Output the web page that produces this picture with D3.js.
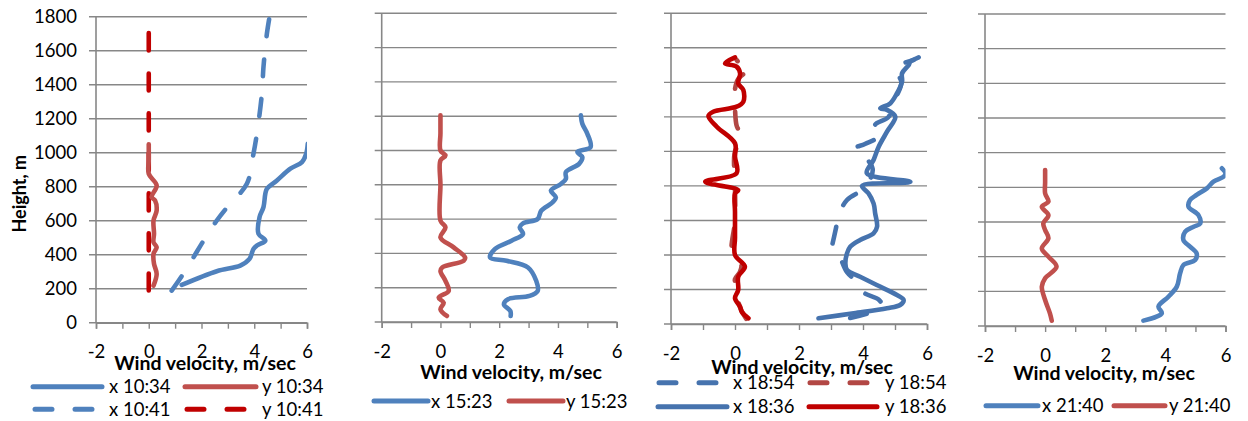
<!DOCTYPE html>
<html>
<head>
<meta charset="utf-8">
<script src="https://cdn.jsdelivr.net/npm/d3@7"></script>
<style>
  html, body { margin: 0; padding: 0; background: #fff; }
  svg { display: block; font-family: Lato, "Liberation Sans", sans-serif; }
</style>
</head>
<body>
<svg id="chart" width="1248" height="421"></svg>
<script>
// Wind profiles: each point is [height (m), velocity (m/sec)]
const heightTicks = [0, 200, 400, 600, 800, 1000, 1200, 1400, 1600, 1800];
const velocityTicks = [-2, -1, 0, 1, 2, 3, 4, 5, 6];

const x1034 = [[222,1.25],[303,2.58],[336,3.47],[375,3.82],[434,3.97],[454,4.1],[483,4.42],[523,4.16],[621,4.2],[680,4.35],[758,4.42],[788,4.48],[837,4.86],[906,5.37],[945,5.81],[994,5.97],[1053,6.03]];
const y1034 = [[218,0.18],[287,0.3],[346,0.2],[405,0.18],[444,0.3],[473,0.18],[523,0.2],[601,0.18],[660,0.3],[719,0.24],[739,0.11],[807,0.3],[876,0.0],[960,0.0],[1050,0.0]];
const x1041 = [[189,0.87],[283,1.29],[380,1.68],[483,2.08],[601,2.58],[690,3.03],[817,3.72],[994,3.97],[1112,4.1],[1348,4.29],[1505,4.35],[1701,4.48],[1800,4.58]];
const y1041 = [[190,0.0],[400,0.0],[600,0.0],[800,0.0],[1000,0.0],[1200,0.0],[1400,0.0],[1600,0.0],[1730,0.0]];

const x1523 = [[35,2.39],[64,2.38],[103,2.16],[133,2.3],[152,3.03],[181,3.31],[240,3.26],[318,2.98],[357,2.25],[376,1.69],[425,1.85],[474,2.42],[513,2.81],[552,2.7],[575,2.81],[601,3.31],[649,3.43],[698,3.82],[727,3.93],[766,3.76],[805,4.1],[835,4.27],[874,4.27],[922,4.72],[961,4.83],[991,4.66],[1020,5.11],[1098,5.0],[1156,4.83],[1205,4.78]];
const y1523 = [[35,0.22],[74,0.0],[113,0.11],[142,-0.06],[181,0.28],[240,0.17],[298,0.0],[318,0.06],[357,0.79],[376,0.84],[435,0.45],[493,0.0],[552,0.17],[591,0.0],[800,0.0],[942,0.0],[971,0.17],[1000,0.0],[1100,0.0],[1205,0.0]];

const x1854 = [[35,3.6],[100,4.6],[140,4.5],[185,4.0],[230,3.9],[300,3.5],[400,3.24],[438,3.02],[467,3.05],[550,3.15],[631,3.24],[718,3.5],[780,4.0],[830,4.2],[900,4.3],[980,4.0],[1018,3.75],[1043,4.06],[1100,4.6],[1153,4.38],[1200,4.8],[1300,5.0],[1400,5.2],[1481,5.01],[1530,5.58]];
const y1854 = [[30,0.35],[100,0.15],[200,0.05],[260,0.0],[300,0.15],[340,0.2],[400,0.0],[430,-0.1],[600,0.0],[800,0.0],[1000,0.0],[1060,0.2],[1110,0.15],[1150,0.05],[1250,0.0],[1300,0.0],[1360,0.0],[1420,0.1],[1480,0.45],[1500,0.2],[1530,0.05]];
const x1836 = [[33,2.61],[62,3.71],[91,4.75],[110,5.16],[139,5.27],[168,5.06],[226,4.43],[274,3.91],[313,3.5],[351,3.45],[409,3.5],[448,3.6],[487,3.91],[525,4.33],[564,4.44],[641,4.38],[699,4.33],[757,4.17],[800,3.97],[824,5.48],[873,4.12],[950,4.33],[1027,4.49],[1114,4.75],[1201,5.01],[1240,4.75],[1250,4.54],[1278,4.85],[1336,5.06],[1404,5.22],[1452,5.22],[1501,5.43],[1520,5.48],[1545,5.74]];
const y1836 = [[33,0.42],[71,0.21],[100,0.16],[149,0.0],[197,0.1],[274,0.1],[332,0.31],[400,0.0],[500,0.0],[650,0.0],[757,0.0],[776,0.1],[824,-0.93],[873,0.05],[969,0.0],[1047,0.0],[1143,-0.57],[1205,-0.83],[1230,-0.68],[1259,0.05],[1288,0.26],[1356,0.26],[1394,0.1],[1452,0.16],[1491,0.05],[1510,-0.31],[1545,0.0]];

const x2140 = [[31,3.27],[73,3.88],[112,3.77],[169,4.1],[227,4.38],[304,4.49],[352,4.6],[381,4.99],[419,5.04],[458,4.82],[496,4.6],[544,4.66],[573,4.94],[592,5.16],[640,5.1],[688,4.77],[727,4.82],[756,5.04],[794,5.38],[833,5.6],[862,5.94],[881,6.0],[910,5.88]];
const y2140 = [[31,0.22],[73,0.16],[150,0.0],[227,-0.11],[275,0.0],[342,0.38],[400,0.11],[448,-0.11],[506,0.11],[554,0.0],[592,-0.06],[640,0.11],[688,-0.11],[717,0.11],[765,0.0],[830,0.0],[900,0.0]];

// Series labels
const labels1 = ["x 10:34", "y 10:34", "x 10:41", "y 10:41"];
const labels2 = ["x 15:23", "y 15:23"];
const labels3 = ["x 18:54", "y 18:54", "x 18:36", "y 18:36"];
const labels4 = ["x 21:40", "y 21:40"];

// Colours and styles
const BLUE = "#4F81BD", RED = "#C0504D", DARKRED = "#C00000";
const BLUE3 = "#4673AE", RED3 = "#B24744";
const DASH = "17,23";
const GRID = "#878787";

const panels = [
  { box: {l: 96, r: 307, t: 16.7, b: 322.7}, yLabels: true, titleX: 205, titleDy: 40,
    series: [
      {data: x1041, label: labels1[2], color: BLUE, dash: DASH},
      {data: y1041, label: labels1[3], color: DARKRED, dash: DASH},
      {data: x1034, label: labels1[0], color: BLUE},
      {data: y1034, label: labels1[1], color: RED}
    ],
    legend: [
      {label: labels1[0], color: BLUE, x1: 33, x2: 102, tx: 109, y: 386.7},
      {label: labels1[1], color: RED, x1: 185, x2: 256, tx: 262, y: 386.7},
      {label: labels1[2], color: BLUE, dash: DASH, x1: 35, x2: 100, tx: 109, y: 409.3},
      {label: labels1[3], color: DARKRED, dash: DASH, x1: 187, x2: 254, tx: 262, y: 409.3}
    ]},
  { box: {l: 381.7, r: 616.7, t: 13.3, b: 322}, titleX: 511, titleDy: 50,
    series: [
      {data: x1523, label: labels2[0], color: BLUE},
      {data: y1523, label: labels2[1], color: RED}
    ],
    legend: [
      {label: labels2[0], color: BLUE, x1: 374, x2: 428, tx: 431, y: 401},
      {label: labels2[1], color: RED, x1: 509, x2: 563, tx: 566, y: 401}
    ]},
  { box: {l: 671, r: 927, t: 13.3, b: 324}, titleX: 802, titleDy: 43,
    series: [
      {data: x1854, label: labels3[0], color: BLUE3, dash: DASH},
      {data: y1854, label: labels3[1], color: RED3, dash: DASH},
      {data: x1836, label: labels3[2], color: BLUE3},
      {data: y1836, label: labels3[3], color: DARKRED}
    ],
    legend: [
      {label: labels3[0], color: BLUE3, dash: DASH, x1: 659, x2: 720, tx: 733, y: 382.7},
      {label: labels3[1], color: RED3, dash: DASH, x1: 810, x2: 870, tx: 885, y: 382.7},
      {label: labels3[2], color: BLUE3, x1: 658, x2: 727, tx: 733, y: 406.7},
      {label: labels3[3], color: DARKRED, x1: 809, x2: 877, tx: 885, y: 406.7}
    ]},
  { box: {l: 985, r: 1225.5, t: 14, b: 326}, titleX: 1104, titleDy: 47,
    series: [
      {data: x2140, label: labels4[0], color: BLUE},
      {data: y2140, label: labels4[1], color: RED}
    ],
    legend: [
      {label: labels4[0], color: BLUE, x1: 986, x2: 1038, tx: 1042, y: 405.7},
      {label: labels4[1], color: RED, x1: 1114, x2: 1165, tx: 1169, y: 405.7}
    ]}
];

const svg = d3.select("#chart");

panels.forEach((p, i) => {
  const {l, r, t, b} = p.box;
  const x = d3.scaleLinear().domain([-2, 6]).range([l, r]);
  const y = d3.scaleLinear().domain([0, 1800]).range([b, t]);
  const g = svg.append("g");

  // horizontal gridlines with left tick marks
  g.selectAll("line.grid").data(heightTicks).join("line")
    .attr("x1", l - 7).attr("x2", r)
    .attr("y1", d => y(d)).attr("y2", d => y(d))
    .attr("stroke", GRID).attr("stroke-width", 1.4);

  // vertical axis line
  g.append("line").attr("x1", l).attr("x2", l).attr("y1", t).attr("y2", b)
    .attr("stroke", GRID).attr("stroke-width", 1.6);

  // velocity axis
  const ax = g.append("g").attr("transform", `translate(0,${b})`)
    .call(d3.axisBottom(x).tickValues(velocityTicks).tickSize(6)
      .tickFormat(d => (d % 2 === 0 ? String(d) : "")));
  ax.select(".domain").attr("stroke", GRID).attr("stroke-width", 1.6);
  ax.selectAll(".tick line").attr("stroke", GRID).attr("stroke-width", 1.4);
  ax.selectAll(".tick text").attr("y", 29).attr("dy", "0.36em")
    .attr("font-size", 18.5).attr("font-family", "Lato, sans-serif").attr("fill", "#000");

  // height labels (first panel only)
  if (p.yLabels) {
    g.selectAll("text.ylab").data(heightTicks).join("text")
      .attr("x", l - 19).attr("y", d => y(d)).attr("dy", "0.36em")
      .attr("text-anchor", "end").attr("font-size", 18.5).text(d => d);
    g.append("text")
      .attr("transform", `translate(26,${(t + b) / 2 + 24}) rotate(-90)`)
      .attr("text-anchor", "middle").attr("font-size", 18).attr("font-weight", "bold")
      .text("Height, m");
  }

  // axis title
  g.append("text").attr("x", p.titleX).attr("y", b + p.titleDy).attr("dy", "0.36em")
    .attr("text-anchor", "middle").attr("font-size", 19.5).attr("font-weight", "bold")
    .text("Wind velocity, m/sec");

  // clip region for profiles
  svg.append("clipPath").attr("id", "clip" + i)
    .append("rect").attr("x", l).attr("y", t - 3).attr("width", r - l).attr("height", b - t + 6);

  const line = d3.line()
    .x(d => x(d[1])).y(d => y(d[0]))
    .curve(d3.curveCatmullRom.alpha(0.5));

  g.append("g").attr("clip-path", `url(#clip${i})`)
    .selectAll("path").data(p.series).join("path")
    .attr("d", s => line(s.data))
    .attr("fill", "none")
    .attr("stroke", s => s.color)
    .attr("stroke-width", 4.6)
    .attr("stroke-linecap", "round")
    .attr("stroke-linejoin", "round")
    .attr("stroke-dasharray", s => s.dash || null);

  // legend
  const lg = g.append("g");
  p.legend.forEach(e => {
    lg.append("line").attr("x1", e.x1).attr("x2", e.x2).attr("y1", e.y).attr("y2", e.y)
      .attr("stroke", e.color).attr("stroke-width", 5).attr("stroke-linecap", "round")
      .attr("stroke-dasharray", e.dash || null);
    lg.append("text").attr("x", e.tx).attr("y", e.y).attr("dy", "0.36em")
      .attr("font-size", 18.5).text(e.label);
  });
});
</script>
</body>
</html>
